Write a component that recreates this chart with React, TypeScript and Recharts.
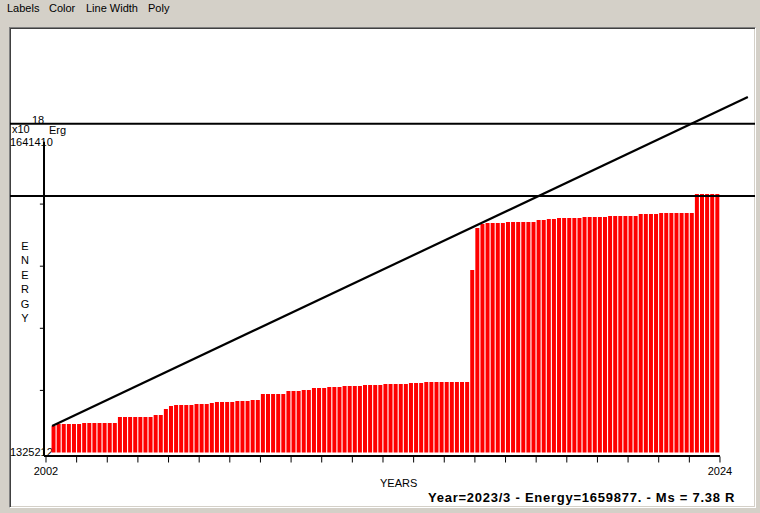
import {
  ComposedChart,
  Bar,
  Line,
  XAxis,
  YAxis,
  ReferenceLine,
} from 'recharts'

// cumulative energy per two-month period, starting 2002/3
const energy = [
  1352200,
  1354230, 1354230, 1354230, 1354230, 1354230,
  1355250, 1355250, 1355250, 1355250, 1355250, 1355250, 1355250,
  1361360, 1361360, 1361360, 1361360, 1361360, 1361360, 1361360,
  1363400, 1363400,
  1369510,
  1372560,
  1373580, 1373580, 1373580, 1373580,
  1374600, 1374600, 1374600,
  1375620,
  1376640, 1376640, 1376640, 1376640,
  1377650, 1377650, 1377650,
  1378670, 1378670,
  1384780, 1384780, 1384780, 1384780, 1384780,
  1387840, 1387840, 1387840,
  1388860, 1388860,
  1390890, 1390890, 1390890,
  1391910, 1391910, 1391910,
  1392930, 1392930, 1392930, 1392930,
  1393950, 1393950, 1393950, 1393950,
  1394970, 1394970, 1394970, 1394970, 1394970,
  1395980, 1395980, 1395980,
  1397000, 1397000, 1397000, 1397000, 1397000, 1397000, 1397000, 1397000, 1397000,
  1511050,
  1553820,
  1557890,
  1558910, 1558910, 1558910, 1558910,
  1559930, 1559930, 1559930, 1559930, 1559930, 1559930,
  1561970, 1561970,
  1562990, 1562990,
  1564000, 1564000, 1564000, 1564000, 1564000,
  1565020, 1565020, 1565020, 1565020, 1565020,
  1566040, 1566040, 1566040, 1566040, 1566040, 1566040,
  1568080, 1568080, 1568080, 1568080,
  1569100, 1569100, 1569100, 1569100, 1569100, 1569100, 1569100,
  1588440, 1588440, 1588440, 1588440, 1588440,
]
const FIRST_PERIOD = 2002.25
const PERIOD = 1 / 6

const BAR_BASE = 1325212
const TOP_VALUE = 1641410
const yTicks = [1388452, 1451691, 1514931, 1578171]
const yearTicks = [
  2002, 2003, 2004, 2005, 2006, 2007, 2008, 2009, 2010, 2011, 2012, 2013,
  2014, 2015, 2016, 2017, 2018, 2019, 2020, 2021, 2022, 2023, 2024,
]
const levelLines = [1586410, 1659877]
const fitLine = [
  { year: 2002.2, energy: 1352200 },
  { year: 2024.91, energy: 1687220 },
]

const AXIS_X = 2001.935
const AXIS_Y = 1321650
const X_DOMAIN: [number, number] = [2000.825, 2025.143]
const Y_DOMAIN: [number, number] = [1321140, 1756460]

const data = energy.map((e, i) => ({
  year: FIRST_PERIOD + i * PERIOD,
  range: [BAR_BASE, e],
}))

const font = '"Liberation Sans", Arial, sans-serif'

const txt = (left: number, top: number, size = 11): React.CSSProperties => ({
  position: 'absolute',
  left,
  top,
  fontSize: size,
  lineHeight: '14px',
  whiteSpace: 'nowrap',
  color: '#000',
})

function YearTick(props: any) {
  const { x, y, payload } = props
  if (payload.value !== 2002 && payload.value !== 2024) return <g />
  return (
    <text x={x} y={y} dy={10} textAnchor="middle" fontSize={11} fontFamily={font} fill="#000">
      {payload.value}
    </text>
  )
}

// fixed 4px wide column centred on the period's position
function EnergyBar(props: any) {
  const { x, y, width, height } = props
  if (height == null || isNaN(height)) return <g />
  const cx = x + width / 2
  return <rect x={cx - 2} y={y} width={4} height={height} fill="#ff0000" />
}

export default function App() {
  return (
    <div
      style={{
        position: 'absolute',
        left: 0,
        top: 0,
        width: 760,
        height: 513,
        background: '#d4d0c8',
        fontFamily: font,
        overflow: 'hidden',
      }}
    >
      {/* menu bar */}
      <div style={txt(7, 1)}>Labels</div>
      <div style={txt(49, 1)}>Color</div>
      <div style={txt(86, 1)}>Line Width</div>
      <div style={txt(148, 1)}>Poly</div>

      <div
        style={{
          position: 'absolute',
          left: 9,
          top: 27,
          width: 747,
          height: 481,
          boxSizing: 'border-box',
          background: '#fff',
          borderTop: '1px solid #808080',
          borderLeft: '1px solid #808080',
          borderRight: '1px solid #fff',
          borderBottom: '1px solid #fff',
          boxShadow: 'inset 1px 1px 0 #404040, inset -1px -1px 0 #d4d0c8',
        }}
      />

      {/* y axis texts */}
      <div style={txt(12, 122)}>x10</div>
      <div style={txt(32, 113, 11)}>18</div>
      <div style={txt(49, 123)}>Erg</div>
      <div style={txt(10, 135)}>{TOP_VALUE}</div>
      <div style={txt(10, 445)}>{BAR_BASE}</div>
      <div
        style={{
          position: 'absolute',
          left: 18,
          top: 239,
          width: 14,
          fontSize: 11,
          lineHeight: '14.4px',
          textAlign: 'center',
        }}
      >
        {'ENERGY'.split('').map((c, i) => (
          <div key={i}>{c}</div>
        ))}
      </div>
      <div style={txt(380, 476)}>YEARS</div>
      <div style={{ ...txt(428, 491, 13), fontWeight: 'bold', letterSpacing: 0.75 }}>
        Year=2023/3 - Energy=1659877. - Ms = 7.38 R
      </div>

      <div style={{ position: 'absolute', left: 10, top: 29 }}>
        <ComposedChart
          width={745}
          height={478}
          data={data}
          margin={{ top: 0, right: 0, bottom: 20.5, left: 0 }}
        >
          <XAxis
            dataKey="year"
            type="number"
            domain={X_DOMAIN}
            ticks={yearTicks}
            interval={0}
            axisLine={false}
            tickSize={6}
            tickLine={{ stroke: '#000' }}
            tick={<YearTick />}
            height={30}
          />
          <YAxis type="number" domain={Y_DOMAIN} hide />
          <Bar dataKey="range" shape={<EnergyBar />} isAnimationActive={false} />
          {levelLines.map((v) => (
            <ReferenceLine key={v} y={v} stroke="#000" strokeWidth={2} />
          ))}
          <ReferenceLine
            segment={[{ x: AXIS_X, y: AXIS_Y }, { x: AXIS_X, y: TOP_VALUE + 300 }]}
            stroke="#000"
            strokeWidth={2}
          />
          <ReferenceLine
            segment={[{ x: AXIS_X, y: AXIS_Y }, { x: 2024, y: AXIS_Y }]}
            stroke="#000"
            strokeWidth={2}
          />
          {yTicks.map((v) => (
            <ReferenceLine
              key={v}
              segment={[{ x: 2001.8, y: v }, { x: AXIS_X, y: v }]}
              stroke="#000"
              strokeWidth={1}
            />
          ))}
          <Line
            data={fitLine}
            dataKey="energy"
            stroke="#000"
            strokeWidth={2.2}
            dot={false}
            isAnimationActive={false}
          />
        </ComposedChart>
      </div>
    </div>
  )
}
